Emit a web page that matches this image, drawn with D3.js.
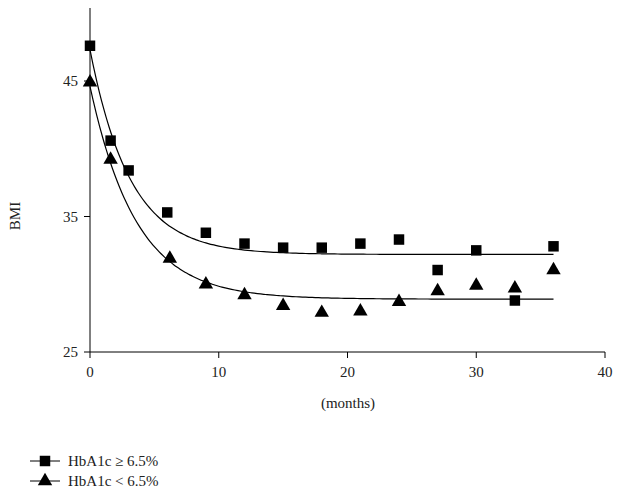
<!DOCTYPE html>
<html><head><meta charset="utf-8">
<script src="https://cdn.jsdelivr.net/npm/d3@7"></script>
<style>body{margin:0;background:#fff}text{font-family:"Liberation Serif","DejaVu Serif",serif;fill:#222}</style>
</head><body><svg id="c" width="620" height="497"></svg>
<script>
const months=[0,1.6,3,6,9,12,15,18,21,24,27,30,33,36];
const high=[47.6,40.6,38.4,35.3,33.8,33.0,32.7,32.7,33.0,33.3,31.05,32.5,28.8,32.8];
const monthsLow=[0,1.6,6.2,9,12,15,18,21,24,27,30,33,36];
const low=[44.9,39.2,31.9,30.0,29.2,28.4,27.9,28.0,28.7,29.5,29.9,29.7,31.05];
const fitHigh={a:47.3,c:32.2,k:0.32};
const fitLow={a:44.6,c:28.9,k:0.28};
const xTicks=[0,10,20,30,40], yTicks=[25,35,45];
const svg=d3.select("#c");
const x=d3.scaleLinear().domain([0,40]).range([90,605]);
const y=d3.scaleLinear().domain([25,45]).range([352,81]);
const yTop=8;
svg.append("line").attr("x1",90).attr("x2",90).attr("y1",yTop).attr("y2",352).attr("stroke","#000");
svg.append("line").attr("x1",90).attr("x2",605).attr("y1",352).attr("y2",352).attr("stroke","#000");
xTicks.forEach(t=>{svg.append("line").attr("x1",x(t)).attr("x2",x(t)).attr("y1",352).attr("y2",358).attr("stroke","#000");
 svg.append("text").attr("x",x(t)).attr("y",377).attr("text-anchor","middle").attr("font-size",15).text(t);});
yTicks.forEach(t=>{svg.append("line").attr("x1",84).attr("x2",90).attr("y1",y(t)).attr("y2",y(t)).attr("stroke","#000");
 svg.append("text").attr("x",78).attr("y",y(t)+5).attr("text-anchor","end").attr("font-size",15).text(t);});
svg.append("text").attr("x",348).attr("y",408).attr("text-anchor","middle").attr("font-size",15).text("(months)");
svg.append("text").attr("transform","translate(20,216) rotate(-90)").attr("text-anchor","middle").attr("font-size",15).text("BMI");
const line=d3.line().x(d=>x(d[0])).y(d=>y(d[1])).curve(d3.curveBasis);
[fitHigh,fitLow].forEach(f=>{const pts=d3.range(0,36.01,0.25).map(t=>[t,(f.a-f.c)*Math.exp(-f.k*t)+f.c]);
 svg.append("path").attr("d",line(pts)).attr("fill","none").attr("stroke","#000").attr("stroke-width",1.2);});
const sq=d3.symbol().type(d3.symbolSquare).size(110), tri=d3.symbol().type(d3.symbolTriangle).size(90);
months.forEach((m,i)=>svg.append("path").attr("d",sq()).attr("transform",`translate(${x(m)},${y(high[i])})`).attr("fill","#000"));
monthsLow.forEach((m,i)=>svg.append("path").attr("d",tri()).attr("transform",`translate(${x(m)},${y(low[i])})`).attr("fill","#000"));
[["HbA1c ≥ 6.5%",sq,461],["HbA1c < 6.5%",tri,481]].forEach(([t,s,yy])=>{
 svg.append("line").attr("x1",30).attr("x2",60).attr("y1",yy).attr("y2",yy).attr("stroke","#000");
 svg.append("path").attr("d",s()).attr("transform",`translate(45,${yy})`).attr("fill","#000");
 svg.append("text").attr("x",68).attr("y",yy+5).attr("font-size",15).text(t);});
</script></body></html>
